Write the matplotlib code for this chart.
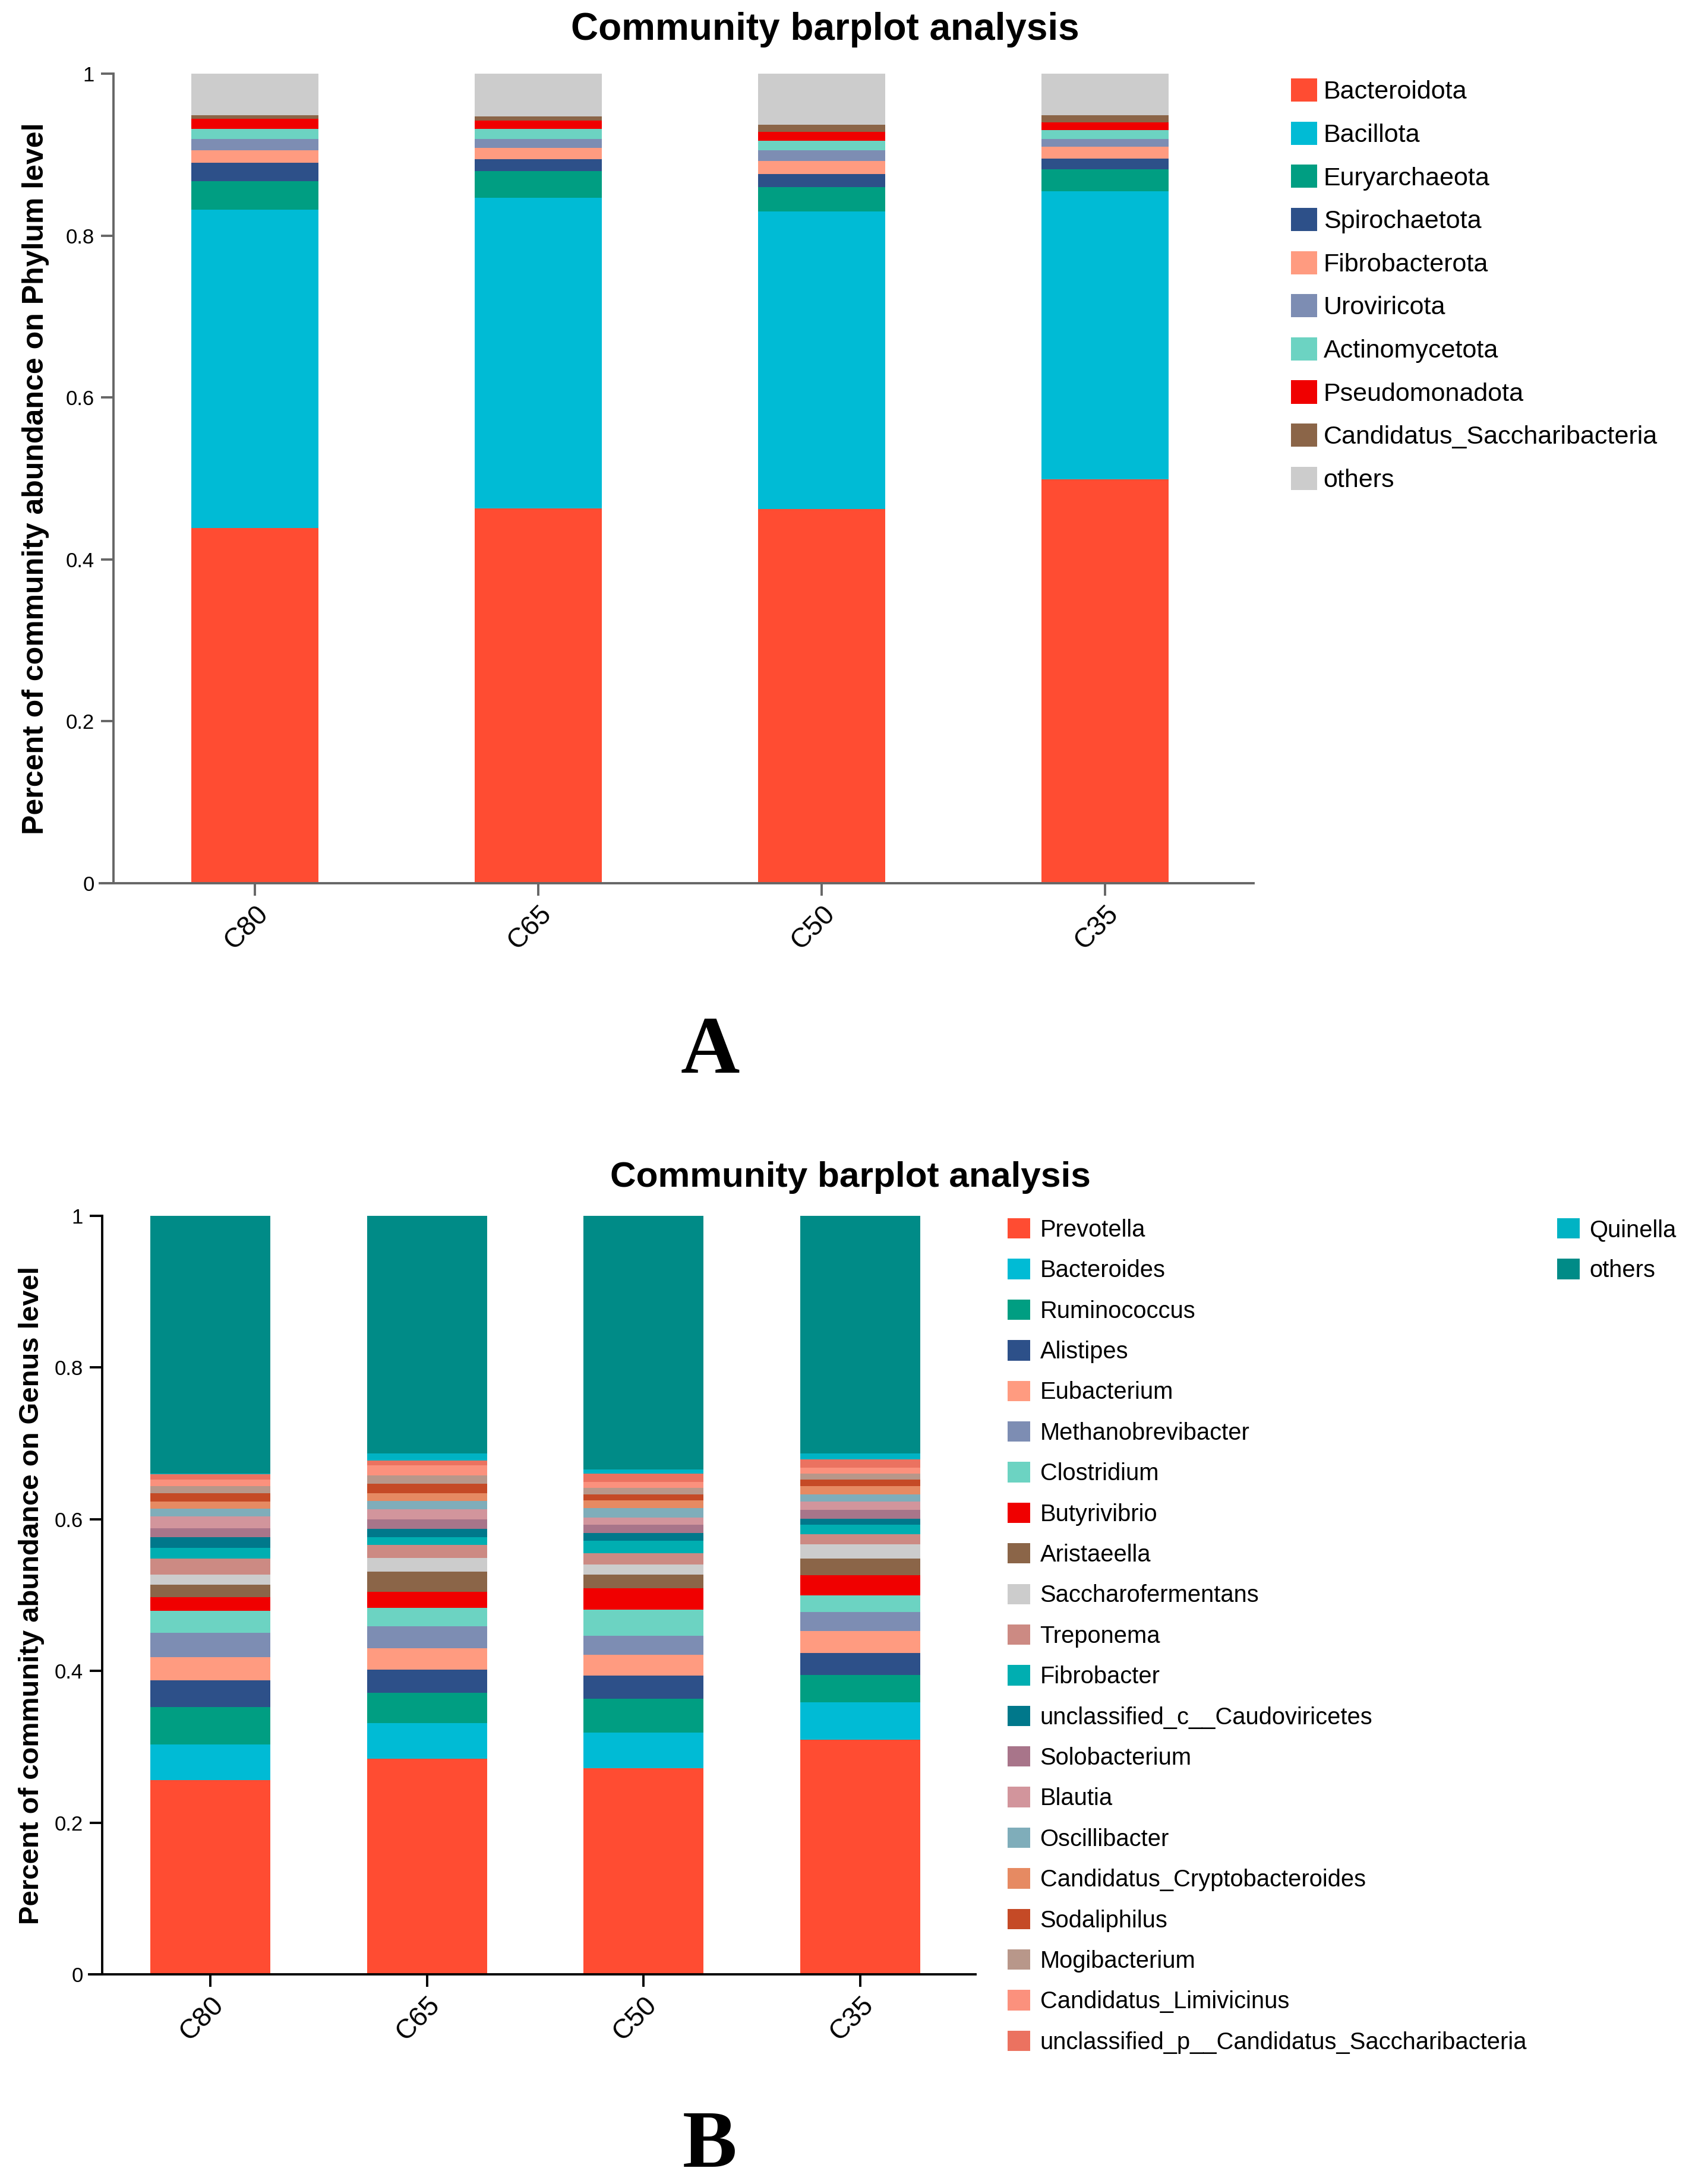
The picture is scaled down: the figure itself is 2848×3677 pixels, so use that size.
import matplotlib
matplotlib.use("Agg")
import matplotlib.pyplot as plt
import numpy as np

plt.rcParams['font.family'] = ['Liberation Sans', 'DejaVu Sans']

# ---------------- data ----------------
samples = ["C80", "C65", "C50", "C35"]
ytick_values = [0, 0.2, 0.4, 0.6, 0.8, 1.0]
ytick_labels = ["0", "0.2", "0.4", "0.6", "0.8", "1"]

phyla = ["Bacteroidota", "Bacillota", "Euryarchaeota", "Spirochaetota",
         "Fibrobacterota", "Uroviricota", "Actinomycetota", "Pseudomonadota",
         "Candidatus_Saccharibacteria", "others"]
phylum_C80 = [0.439, 0.393, 0.035, 0.023, 0.015, 0.014, 0.013, 0.012, 0.005, 0.051]
phylum_C65 = [0.463, 0.384, 0.033, 0.014, 0.014, 0.011, 0.013, 0.010, 0.005, 0.053]
phylum_C50 = [0.462, 0.368, 0.030, 0.016, 0.016, 0.013, 0.012, 0.011, 0.009, 0.063]
phylum_C35 = [0.499, 0.356, 0.027, 0.013, 0.015, 0.009, 0.011, 0.010, 0.009, 0.051]

genera = ["Prevotella", "Bacteroides", "Ruminococcus", "Alistipes", "Eubacterium",
          "Methanobrevibacter", "Clostridium", "Butyrivibrio", "Aristaeella",
          "Saccharofermentans", "Treponema", "Fibrobacter",
          "unclassified_c__Caudoviricetes", "Solobacterium", "Blautia",
          "Oscillibacter", "Candidatus_Cryptobacteroides", "Sodaliphilus",
          "Mogibacterium", "Candidatus_Limivicinus",
          "unclassified_p__Candidatus_Saccharibacteria", "Quinella", "others"]
genus_C80 = [0.256, 0.047, 0.049, 0.036, 0.030, 0.032, 0.029, 0.018, 0.017, 0.013, 0.021, 0.014,
             0.014, 0.012, 0.016, 0.010, 0.009, 0.011, 0.010, 0.008, 0.007, 0.001, 0.340]
genus_C65 = [0.284, 0.047, 0.040, 0.031, 0.028, 0.029, 0.024, 0.021, 0.027, 0.018, 0.017, 0.010,
             0.011, 0.013, 0.013, 0.011, 0.010, 0.013, 0.011, 0.013, 0.006, 0.010, 0.313]
genus_C50 = [0.272, 0.047, 0.044, 0.031, 0.027, 0.025, 0.035, 0.028, 0.018, 0.013, 0.015, 0.017,
             0.010, 0.011, 0.009, 0.013, 0.010, 0.008, 0.008, 0.008, 0.011, 0.006, 0.334]
genus_C35 = [0.309, 0.050, 0.036, 0.029, 0.029, 0.025, 0.022, 0.026, 0.022, 0.019, 0.013, 0.013,
             0.008, 0.011, 0.011, 0.010, 0.011, 0.008, 0.008, 0.008, 0.011, 0.008, 0.313]

# ---------------- styles ----------------
phylum_colors = ["#FF4C32", "#00BBD5", "#009E82", "#2D5089", "#FF9B80",
                 "#7D8DB3", "#6CD3C2", "#F00000", "#8B6548", "#CCCCCC"]
genus_colors = ["#FF4C32", "#00BBD5", "#009E82", "#2D5089", "#FF9B80",
                "#7D8DB3", "#6CD3C2", "#F00000", "#8B6548", "#CCCCCC",
                "#CC8A83", "#00AEB1", "#00788B", "#A8758A", "#D2959C",
                "#7FADBA", "#E68A62", "#C54A26", "#B8978A", "#FB917D",
                "#EB7260", "#00B3C4", "#008B87"]

W, H = 2848, 3677
DPI = 100
fig = plt.figure(figsize=(W / DPI, H / DPI), dpi=DPI)


def px_rect(left, top, right, bottom):
    return [left / W, 1 - bottom / H, (right - left) / W, (bottom - top) / H]


def draw_panel(ax, data, colors, width, xlim, spine_color, yspine_frac):
    mat = np.array(data).T  # taxa x samples
    x = np.arange(len(samples))
    bottom = np.zeros(len(samples))
    bars = []
    for vals, col in zip(mat, colors):
        b = ax.bar(x, vals, width=width, bottom=bottom, color=col, linewidth=0)
        bars.append(b)
        bottom = bottom + vals
    ax.set_xlim(*xlim)
    ax.set_ylim(0, 1)
    ax.set_xticks(x)
    ax.set_xticklabels(samples, rotation=45, ha='right', rotation_mode='anchor')
    ax.set_yticks(ytick_values)
    ax.set_yticklabels(ytick_labels)
    for s in ['top', 'right']:
        ax.spines[s].set_visible(False)
    ax.spines['left'].set_position(('axes', yspine_frac))
    for s in ['left', 'bottom']:
        ax.spines[s].set_color(spine_color)
        ax.spines[s].set_linewidth(2.8)
    ax.tick_params(axis='both', colors=spine_color, width=2.8, length=15,
                   labelcolor='black', labelsize=25, pad=8)
    ax.tick_params(axis='x', labelsize=33, pad=6)
    return bars


# ---------------- Panel A ----------------
axA = fig.add_axes(px_rect(168, 124, 2110, 1487))
barsA = draw_panel(axA, [phylum_C80, phylum_C65, phylum_C50, phylum_C35],
                   phylum_colors, 0.45, (-0.547, 3.524), '#666666', 0.0118)
axA.set_ylabel("Percent of community abundance on Phylum level",
               fontsize=36, fontweight='bold')
axA.yaxis.set_label_coords(-0.044, 0.5)
fig.text(1389 / W, 1 - 50 / H, "Community barplot analysis", ha='center', va='center',
         fontsize=46, fontweight='bold')
legA = axA.legend([b[0] for b in barsA], phyla, loc='upper left',
                  bbox_to_anchor=(2173 / W, 1 - 132 / H), bbox_transform=fig.transFigure,
                  frameon=False, fontsize=31, handlelength=1.02, handleheight=1.02,
                  handletextpad=0.25, labelspacing=0.682, borderpad=0, borderaxespad=0)

# ---------------- Panel B ----------------
axB = fig.add_axes(px_rect(150, 2047, 1642, 3324))
barsB = draw_panel(axB, [genus_C80, genus_C65, genus_C50, genus_C35],
                   genus_colors, 0.554, (-0.559, 3.532), 'black', 0.0147)
axB.set_ylabel("Percent of community abundance on Genus level",
               fontsize=34, fontweight='bold')
axB.yaxis.set_label_coords(-0.050, 0.5)
fig.text(1431 / W, 1 - 1982 / H, "Community barplot analysis", ha='center', va='center',
         fontsize=43.5, fontweight='bold')
legB1 = axB.legend([b[0] for b in barsB[:21]], genera[:21], loc='upper left',
                   bbox_to_anchor=(1696 / W, 1 - 2051 / H), bbox_transform=fig.transFigure,
                   frameon=False, fontsize=28.7, handlelength=0.95, handleheight=0.95,
                   handletextpad=0.42, labelspacing=0.74, borderpad=0, borderaxespad=0)
axB.add_artist(legB1)
legB2 = axB.legend([b[0] for b in barsB[21:]], genera[21:], loc='upper left',
                   bbox_to_anchor=(2621 / W, 1 - 2051 / H), bbox_transform=fig.transFigure,
                   frameon=False, fontsize=28.7, handlelength=0.95, handleheight=0.95,
                   handletextpad=0.42, labelspacing=0.74, borderpad=0, borderaxespad=0)

# ---------------- panel letters ----------------
fig.text(1195 / W, 1 - 1772 / H, "A", ha='center', va='center', fontsize=99,
         fontweight='bold', family=['Liberation Serif', 'DejaVu Serif'])
fig.text(1195 / W, 1 - 3614 / H, "B", ha='center', va='center', fontsize=99,
         fontweight='bold', family=['Liberation Serif', 'DejaVu Serif'])

fig.savefig("out.png", dpi=DPI)
